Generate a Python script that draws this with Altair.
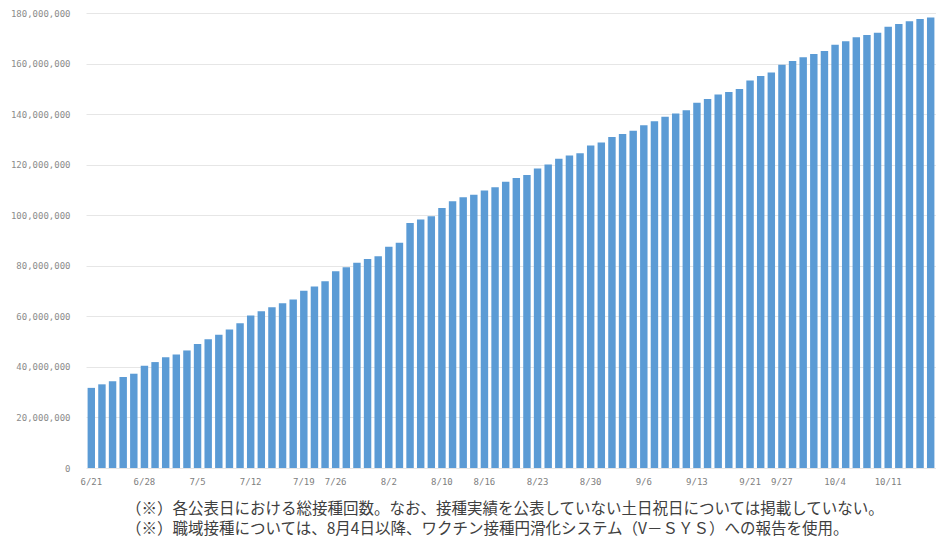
import altair as alt
import pandas as pd

dates = [
    "6/21", "6/22", "6/23", "6/24", "6/25",
    "6/28", "6/29", "6/30", "7/1", "7/2",
    "7/5", "7/6", "7/7", "7/8", "7/9",
    "7/12", "7/13", "7/14", "7/15", "7/16",
    "7/19", "7/20", "7/21",
    "7/26", "7/27", "7/28", "7/29", "7/30",
    "8/2", "8/3", "8/4", "8/5", "8/6",
    "8/10", "8/11", "8/12", "8/13",
    "8/16", "8/17", "8/18", "8/19", "8/20",
    "8/23", "8/24", "8/25", "8/26", "8/27",
    "8/30", "8/31", "9/1", "9/2", "9/3",
    "9/6", "9/7", "9/8", "9/9", "9/10",
    "9/13", "9/14", "9/15", "9/16", "9/17",
    "9/21", "9/22", "9/24",
    "9/27", "9/28", "9/29", "9/30", "10/1",
    "10/4", "10/5", "10/6", "10/7", "10/8",
    "10/11", "10/12", "10/13", "10/14", "10/15",
]

# total vaccinations, millions
totals_m = [
    31.7, 33.1, 34.3, 36.0, 37.3,
    40.5, 41.9, 43.8, 44.9, 46.5,
    49.1, 50.9, 52.7, 54.8, 57.3,
    60.3, 62.0, 63.6, 65.2, 66.7,
    70.1, 71.8, 73.9,
    77.8, 79.4, 81.2, 82.7, 83.8,
    87.5, 89.1, 96.9, 98.3, 99.6,
    102.9, 105.5, 107.1, 108.1,
    109.8, 111.1, 113.2, 114.7, 115.9,
    118.5, 120.1, 122.3, 123.6, 124.5,
    127.6, 128.8, 130.9, 132.1, 133.4,
    135.6, 137.2, 139.0, 140.2, 141.5,
    144.5, 146.0, 147.8, 148.7, 149.9,
    153.3, 155.1, 156.5,
    159.5, 161.0, 162.5, 163.8, 165.0,
    167.4, 168.8, 170.4, 171.3, 172.2,
    174.6, 175.6, 176.7, 177.6, 178.2,
]

tick_dates = ["6/21", "6/28", "7/5", "7/12", "7/19", "7/26", "8/2", "8/10",
              "8/16", "8/23", "8/30", "9/6", "9/13", "9/21", "9/27", "10/4", "10/11"]

y_ticks = [0, 20000000, 40000000, 60000000, 80000000, 100000000,
           120000000, 140000000, 160000000, 180000000]

notes = [
    "（※）各公表日における総接種回数。なお、接種実績を公表していない土日祝日については掲載していない。",
    "（※）職域接種については、8月4日以降、ワクチン接種円滑化システム（V－ＳＹＳ）への報告を使用。",
]

df = pd.DataFrame({"date": dates, "count": [v * 1e6 for v in totals_m]})

chart = alt.Chart(df).mark_bar(color="#5B9BD5").encode(
    x=alt.X(
        "date:N",
        sort=None,
        scale=alt.Scale(paddingInner=0.3, paddingOuter=0.15),
        axis=alt.Axis(
            values=tick_dates, labelAngle=0, title=None, domain=False, ticks=False,
            labelColor="#808080", labelFont="DejaVu Sans Mono", labelFontSize=9,
            labelPadding=9, labelOverlap=False, labelBound=False, labelFlush=False,
        ),
    ),
    y=alt.Y(
        "count:Q",
        scale=alt.Scale(domain=[0, 180000000], nice=False),
        axis=alt.Axis(
            values=y_ticks, format=",.0f", title=None, domain=False, ticks=False,
            gridColor="#e6e6e6", labelColor="#8c8c8c", labelFont="DejaVu Sans Mono",
            labelFontSize=9, labelPadding=16,
        ),
    ),
).properties(
    width=850,
    height=455,
    autosize=alt.AutoSizeParams(type="none"),
    padding={"left": 78, "top": 5, "right": 0, "bottom": 69},
    title=alt.TitleParams(
        text=notes, orient="bottom", anchor="start", frame="group", dx=40,
        offset=16, fontSize=15.5, font="Noto Sans CJK JP", fontWeight="normal",
        color="#404040", lineHeight=20, align="left",
    ),
).configure_view(stroke=None)

chart.save("out.html", embed_options={"renderer": "svg", "actions": False})
